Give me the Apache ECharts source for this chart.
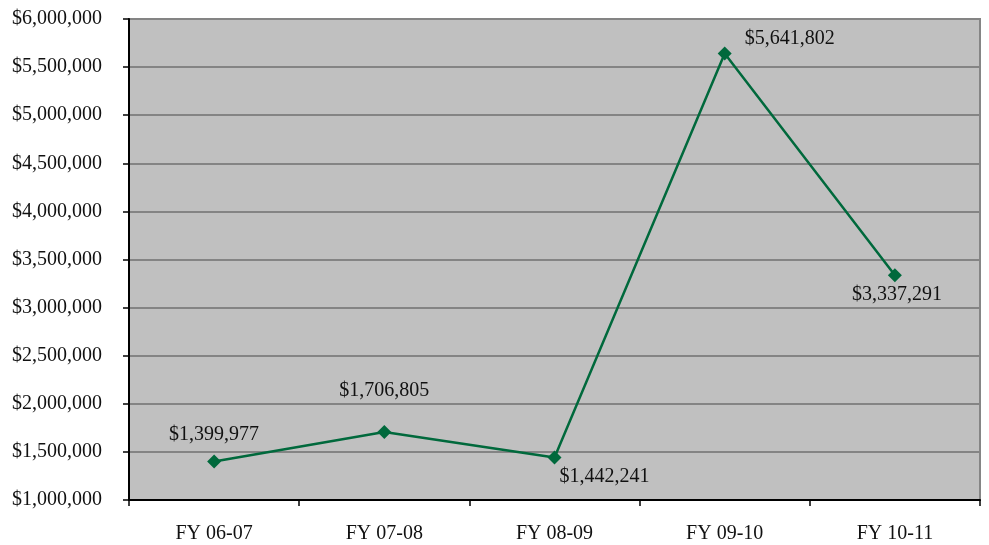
<!DOCTYPE html>
<html>
<head>
<meta charset="utf-8">
<style>
  html, body { margin: 0; padding: 0; background: #ffffff; }
  #chart { width: 989px; height: 545px; }
</style>
<script src="https://cdn.jsdelivr.net/npm/echarts@6/dist/echarts.min.js"></script>
</head>
<body>
<div id="chart"></div>
<script>
// Fiscal years and yearly totals
const categories = ['FY 06-07', 'FY 07-08', 'FY 08-09', 'FY 09-10', 'FY 10-11'];
const totals = [1399977, 1706805, 1442241, 5641802, 3337291];

// Value axis range
const yMin = 1000000;
const yMax = 6000000;
const yStep = 500000;

// Where each value label sits relative to its marker [dx, dy]
const labelOffsets = [[0, -5], [0, -19], [50, 41], [65, 7], [2, 42]];

const money = v => '$' + Math.round(v).toLocaleString('en-US');
const serif = '"Liberation Serif", "DejaVu Serif", serif';

const chart = echarts.init(document.getElementById('chart'));

chart.setOption({
  animation: false,
  textStyle: { fontFamily: serif },
  grid: {
    left: 129, right: 9, top: 19, bottom: 45,
    show: true,
    backgroundColor: '#c0c0c0',
    borderColor: '#858585',
    borderWidth: 2
  },
  xAxis: {
    type: 'category',
    data: categories,
    boundaryGap: true,
    axisLine: { show: true, lineStyle: { color: '#000', width: 2 } },
    axisTick: { show: true, length: 6, inside: false, lineStyle: { color: '#000', width: 1.5 } },
    axisLabel: { color: '#111', fontFamily: serif, fontSize: 20, margin: 24 },
    splitLine: { show: false }
  },
  yAxis: {
    type: 'value',
    min: yMin,
    max: yMax,
    interval: yStep,
    axisLine: { show: true, lineStyle: { color: '#000', width: 2 } },
    axisTick: { show: true, length: 6, lineStyle: { color: '#000', width: 1.5 } },
    axisLabel: { color: '#111', fontFamily: serif, fontSize: 20, margin: 27, formatter: money },
    splitLine: { show: true, lineStyle: { color: '#848484', width: 2 } }
  },
  series: [{
    type: 'line',
    data: totals.map((v, i) => ({
      value: v,
      label: { offset: labelOffsets[i] }
    })),
    symbol: 'diamond',
    symbolSize: 14,
    lineStyle: { color: '#00693c', width: 2.5 },
    itemStyle: { color: '#00693c' },
    label: {
      show: true,
      position: 'top',
      color: '#111',
      fontFamily: serif,
      fontSize: 20,
      formatter: p => money(p.value)
    }
  }]
});
</script>
</body>
</html>
